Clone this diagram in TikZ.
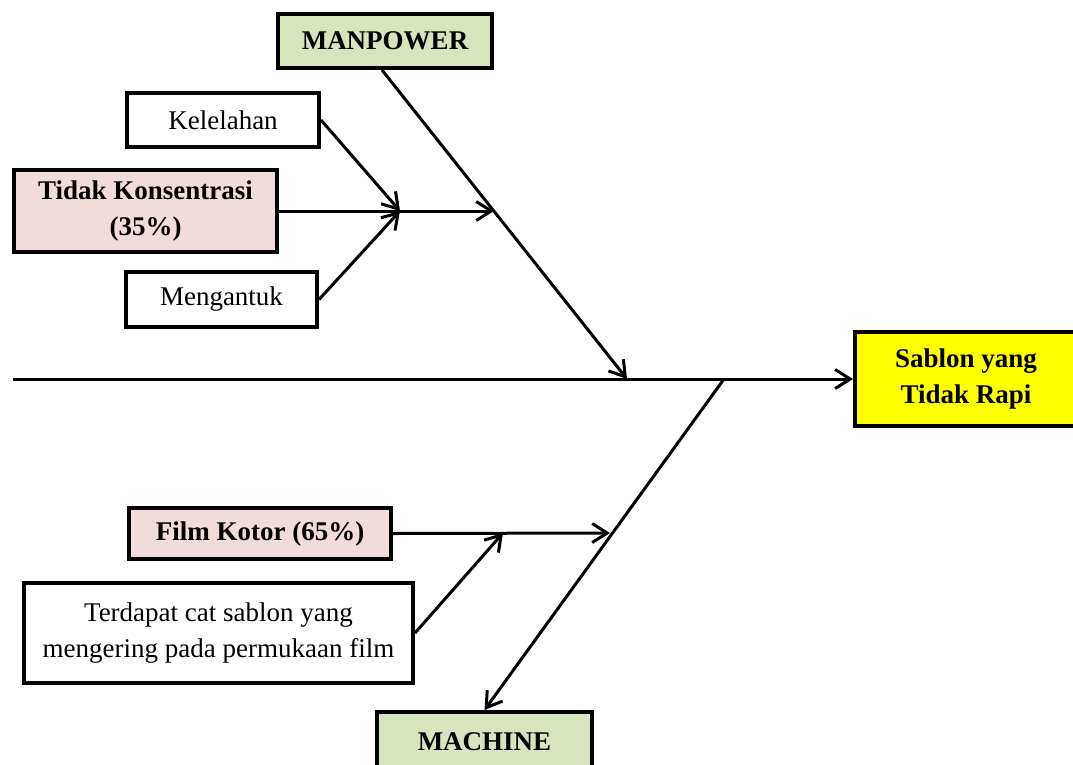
\documentclass[tikz,border=0pt]{standalone}
\usepackage{fontspec}
\setmainfont{Liberation Serif}
\usetikzlibrary{arrows.meta}
\definecolor{catgreen}{HTML}{D7E4BD}
\definecolor{causepink}{HTML}{F2DCDB}
\definecolor{effyellow}{HTML}{FFFF00}
\begin{document}
\begin{tikzpicture}[x=1pt,y=-1pt,
  box/.style={draw, line width=4pt, rectangle, align=center, inner sep=0pt,
    font=\fontsize{27}{36}\selectfont},
  boldbox/.style={box, font=\fontsize{27}{36}\selectfont\bfseries},
  bone/.style={line width=3pt, -{Straight Barb[length=15pt,width=19pt,line width=3pt]}}]
\useasboundingbox (0,0) rectangle (1073,764);

% category and cause boxes
\node[boldbox, fill=catgreen, minimum width=214pt, minimum height=54pt] (man) at (385,41) {MANPOWER};
\node[box, minimum width=192pt, minimum height=54pt] (kel) at (223,120) {Kelelahan};
\node[boldbox, fill=causepink, minimum width=263pt, minimum height=82pt] (tk) at (145.5,211) {Tidak Konsentrasi\\(35\%)};
\node[box, minimum width=191pt, minimum height=55pt] (men) at (221.5,299.5) {Mengantuk};
\node[boldbox, fill=effyellow, minimum width=222pt, minimum height=94pt] (eff) at (966,379) {Sablon yang\\Tidak Rapi};
\node[boldbox, fill=causepink, minimum width=262pt, minimum height=51pt] (fk) at (260,533.5) {Film Kotor (65\%)};
\node[box, minimum width=389pt, minimum height=100pt] (ter) at (218.5,633) {Terdapat cat sablon yang\\mengering pada permukaan film};
\node[boldbox, fill=catgreen, minimum width=215pt, minimum height=60pt] (mach) at (484.5,742) {MACHINE};

% junction points on the bones
\coordinate (tail) at (13,379);
\coordinate (mj) at (627,379);
\coordinate (mb) at (494,211);
\coordinate (kj) at (400,211);
\coordinate (ms) at (724,379);
\coordinate (fj) at (610,533);
\coordinate (tj) at (503,533);

% spine and bones
\draw[bone] (tail) -- (eff.west);
\draw[bone] (man.south -| 382,0) -- (mj);
\draw[bone] (tk.east) -- (mb);
\draw[bone] (kel.east) -- (kj);
\draw[bone] (men.east) -- (kj);
\draw[bone] (ms) -- (mach.north);
\draw[bone] (fk.east) -- (fj);
\draw[bone] (ter.east) -- (tj);
\end{tikzpicture}
\end{document}
